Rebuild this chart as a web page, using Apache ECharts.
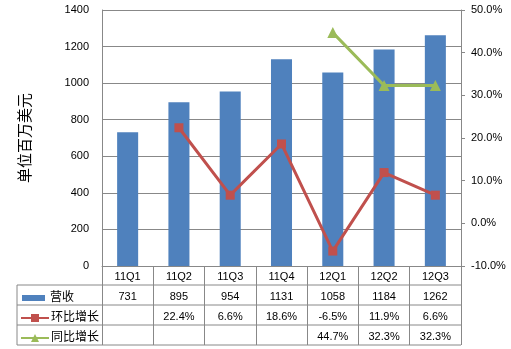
<!DOCTYPE html>
<html>
<head>
<meta charset="utf-8">
<script src="https://cdn.jsdelivr.net/npm/echarts@6/dist/echarts.min.js"></script>
<style>
  html, body { margin: 0; padding: 0; background: #fff; }
  #chart { width: 511px; height: 349px; }
</style>
</head>
<body>
<div id="chart"></div>
<script>
// Quarterly revenue (US$ millions) with quarter-on-quarter and year-on-year growth (%)
const categories = ['11Q1', '11Q2', '11Q3', '11Q4', '12Q1', '12Q2', '12Q3'];
const revenue = [731, 895, 954, 1131, 1058, 1184, 1262];
const qoqGrowth = [null, 22.4, 6.6, 18.6, -6.5, 11.9, 6.6];
const yoyGrowth = [null, null, null, null, 44.7, 32.3, 32.3];

const seriesNames = ['营收', '环比增长', '同比增长'];
const leftAxisRange = { min: 0, max: 1400, interval: 200 };
const rightAxisRange = { min: -10, max: 50, interval: 10 };

const pct = v => (v == null ? '' : v.toFixed(1) + '%');
const revenueCells = revenue.map(String);
const qoqCells = qoqGrowth.map(pct);
const yoyCells = yoyGrowth.map(pct);

const FONT = '"Liberation Sans", "Noto Sans CJK SC", sans-serif';
const GRID_COLOR = '#888888';

// layout of the plot and the data table beneath it
const plot = { left: 102, right: 461, top: 10, bottom: 266 };
const table = { left: 17, rowH: 20, firstRowTop: 285, rows: 3 };

function tableRowAxis(cells, offset) {
  return {
    type: 'category',
    data: cells,
    position: 'bottom',
    offset: offset,
    axisLine: { show: false },
    axisTick: { show: false },
    axisLabel: { interval: 0, margin: 5, color: '#000', fontSize: 11, fontFamily: FONT }
  };
}

// one legend per table row, so each key sits in the row of its series
function rowLegend(name, row, opts) {
  const rowCenter = table.firstRowTop + row * table.rowH + table.rowH / 2;
  return {
    orient: 'horizontal',
    left: opts.left,
    top: rowCenter - opts.itemHeight / 2 + (opts.nudge || 0),
    padding: 0,
    itemWidth: opts.itemWidth,
    itemHeight: opts.itemHeight,
    textStyle: { color: '#000', fontSize: 12, fontFamily: FONT, padding: opts.textPad },
    data: [opts.icon ? { name: name, icon: opts.icon } : { name: name }]
  };
}

const tableLines = [];
for (let i = 0; i <= table.rows; i++) {
  const y = table.firstRowTop + i * table.rowH;
  tableLines.push({
    type: 'line',
    shape: { x1: table.left, y1: y, x2: plot.right, y2: y },
    style: { stroke: GRID_COLOR, lineWidth: 1 }
  });
}
tableLines.push({
  type: 'line',
  shape: { x1: table.left, y1: table.firstRowTop, x2: table.left, y2: table.firstRowTop + table.rows * table.rowH },
  style: { stroke: GRID_COLOR, lineWidth: 1 }
});

const chart = echarts.init(document.getElementById('chart'), null, { renderer: 'canvas' });
chart.setOption({
  animation: false,
  backgroundColor: '#fff',
  textStyle: { fontFamily: FONT },
  grid: {
    left: plot.left,
    right: 511 - plot.right,
    top: plot.top,
    bottom: 349 - plot.bottom,
    containLabel: false
  },
  legend: [
    rowLegend(seriesNames[0], 0, { left: 22, itemWidth: 23, itemHeight: 6, icon: 'rect', textPad: [0, 0, 0, 0] }),
    rowLegend(seriesNames[1], 1, { left: 20, itemWidth: 28, itemHeight: 10, textPad: [0, 0, 0, -3], nudge: 2 }),
    rowLegend(seriesNames[2], 2, { left: 20, itemWidth: 28, itemHeight: 10, textPad: [0, 0, 0, -3], nudge: 2 })
  ],
  xAxis: [
    {
      type: 'category',
      data: categories,
      axisLine: { lineStyle: { color: GRID_COLOR, width: 1 } },
      axisTick: { show: true, length: 79, lineStyle: { color: GRID_COLOR, width: 1 } },
      axisLabel: { interval: 0, margin: 5, color: '#000', fontSize: 11, fontFamily: FONT }
    },
    tableRowAxis(revenueCells, 20),
    tableRowAxis(qoqCells, 40),
    tableRowAxis(yoyCells, 60)
  ],
  yAxis: [
    {
      type: 'value',
      position: 'left',
      min: leftAxisRange.min,
      max: leftAxisRange.max,
      interval: leftAxisRange.interval,
      name: '单位百万美元',
      nameLocation: 'middle',
      nameRotate: 90,
      nameGap: 70,
      nameTextStyle: { color: '#000', fontSize: 15, fontFamily: '"Noto Sans CJK SC", sans-serif' },
      axisLine: { show: true, lineStyle: { color: GRID_COLOR, width: 1 } },
      axisTick: { show: false },
      splitLine: { show: true, lineStyle: { color: GRID_COLOR, width: 1 } },
      axisLabel: { margin: 13, color: '#000', fontSize: 11, fontFamily: FONT, formatter: v => String(v) }
    },
    {
      type: 'value',
      position: 'right',
      min: rightAxisRange.min,
      max: rightAxisRange.max,
      interval: rightAxisRange.interval,
      axisLine: { show: true, lineStyle: { color: GRID_COLOR, width: 1 } },
      axisTick: { show: true, length: 4, lineStyle: { color: GRID_COLOR, width: 1 } },
      splitLine: { show: false },
      axisLabel: { margin: 10, color: '#000', fontSize: 11, fontFamily: FONT, formatter: v => v.toFixed(1) + '%' }
    }
  ],
  series: [
    {
      name: seriesNames[0],
      type: 'bar',
      xAxisIndex: 0,
      yAxisIndex: 0,
      data: revenue,
      barWidth: '41%',
      itemStyle: { color: '#4F81BD' }
    },
    {
      name: seriesNames[1],
      type: 'line',
      xAxisIndex: 0,
      yAxisIndex: 1,
      data: qoqGrowth,
      symbol: 'rect',
      symbolSize: 9,
      lineStyle: { color: '#C0504D', width: 3 },
      itemStyle: { color: '#C0504D' }
    },
    {
      name: seriesNames[2],
      type: 'line',
      xAxisIndex: 0,
      yAxisIndex: 1,
      data: yoyGrowth,
      symbol: 'triangle',
      symbolSize: 11,
      lineStyle: { color: '#9BBB59', width: 3 },
      itemStyle: { color: '#9BBB59' }
    }
  ],
  graphic: tableLines
});
</script>
</body>
</html>
